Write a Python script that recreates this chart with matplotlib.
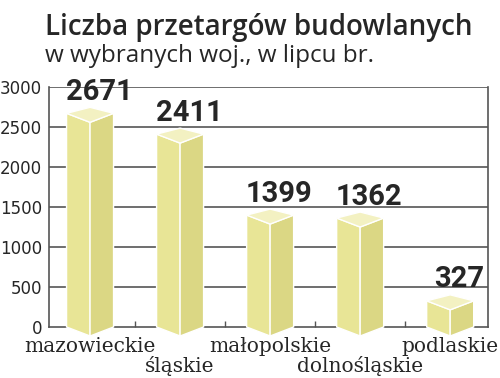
import matplotlib
matplotlib.use('Agg')
import matplotlib.pyplot as plt
from matplotlib.patches import Polygon
import matplotlib.transforms as mtransforms

# ── Data ──────────────────────────────────────────────────────────────────────
regions = ['mazowieckie', 'śląskie', 'małopolskie', 'dolnośląskie', 'podlaskie']
values  = [2671, 2411, 1399, 1362, 327]
yticks  = [0, 500, 1000, 1500, 2000, 2500, 3000]

# ── Style ─────────────────────────────────────────────────────────────────────
LEFT_C, RIGHT_C, TOP_C = '#e8e596', '#dbd784', '#f3f1c2'
GRID_C = '#555555'
TXT = '#262626'

W, H = 500, 378
fig = plt.figure(figsize=(W / 100, H / 100), dpi=100)
fig.patch.set_facecolor('white')

# axes box in pixels: x 49..488, y 87..327
ax = fig.add_axes([49 / W, (H - 327) / H, (488 - 49) / W, (327 - 87) / H])
ax.set_xlim(-0.456, 4.42)
ax.set_ylim(0, 3000)

# pixel -> data helpers
px_x = (4.42 + 0.456) / (488 - 49)
px_y = 3000 / (327 - 87)

hw = 23.5 * px_x    # half width of a prism
fo = 9 * px_y       # front corner drop
bo = 6 * px_y       # back corner rise

for i, v in enumerate(values):
    c = i
    left = [(c - hw, 0), (c, -fo), (c, v - fo), (c - hw, v)]
    right = [(c, -fo), (c + hw, 0), (c + hw, v), (c, v - fo)]
    top = [(c - hw, v), (c, v - fo), (c + hw, v), (c, v + bo)]
    for pts, col in ((left, LEFT_C), (right, RIGHT_C), (top, TOP_C)):
        ax.add_patch(Polygon(pts, closed=True, facecolor=col, edgecolor='white',
                             lw=1.0, zorder=3, clip_on=False))
    ax.annotate(f'{v}', (c + 0.1, v + bo), xytext=(0, 1), textcoords='offset points',
                ha='center', va='bottom', fontsize=21, fontweight='bold',
                family='Roboto', color=TXT, zorder=4, annotation_clip=False)

# grid and frame
ax.set_yticks(yticks)
ax.set_yticklabels([str(t) for t in yticks])
for t in yticks[1:]:
    ax.axhline(t, color=GRID_C, lw=1.2, zorder=1)
for side in ['left', 'right', 'bottom']:
    ax.spines[side].set_color(GRID_C)
    ax.spines[side].set_linewidth(1.2)
ax.spines['top'].set_visible(False)
ax.tick_params(axis='y', length=0, pad=5, labelsize=12, labelcolor=TXT)
ax.set_xticks([0.5, 1.5, 2.5, 3.5])
ax.set_xticklabels([])
ax.tick_params(axis='x', direction='in', length=4, width=1, color=GRID_C)

# category labels, staggered in two rows
trans = mtransforms.blended_transform_factory(ax.transData, fig.transFigure)
for i, name in enumerate(regions):
    ypix = 346 if i % 2 == 0 else 366
    ax.text(i, 1 - ypix / H, name, transform=trans, ha='center', va='center',
            fontsize=14.5, family='DejaVu Serif', color=TXT)

# titles
fig.text(45 / W, 1 - 35 / H, 'Liczba przetargów budowlanych', ha='left', va='baseline',
         fontsize=20, fontweight='semibold', family='Open Sans', color=TXT)
fig.text(45 / W, 1 - 62 / H, 'w wybranych woj., w lipcu br.', ha='left', va='baseline',
         fontsize=17.5, family='Open Sans', color=TXT)

fig.savefig('out.png', dpi=100, facecolor='white')
